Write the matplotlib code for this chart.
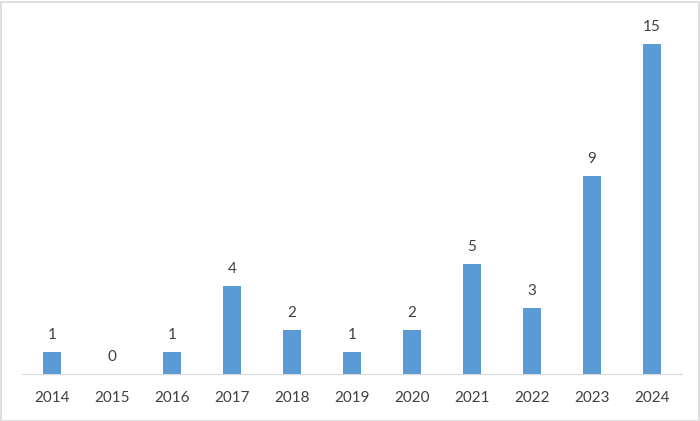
import matplotlib
matplotlib.use("Agg")
from matplotlib import pyplot as plt
from matplotlib.patches import Rectangle

years = ['2014', '2015', '2016', '2017', '2018', '2019', '2020', '2021', '2022', '2023', '2024']
counts = [1, 0, 1, 4, 2, 1, 2, 5, 3, 9, 15]

plt.rcParams['font.family'] = ['Lato', 'DejaVu Sans']

fig = plt.figure(figsize=(7, 4.21), dpi=100)
ax = fig.add_axes([22/700, 47/421, 660/700, 352/421])

x = range(len(years))
bars = ax.bar(x, counts, width=0.31, color='#5B9BD5')
for b, v in zip(bars, counts):
    ax.text(b.get_x() + b.get_width()/2, v + 0.45, str(v), ha='center', va='bottom',
            fontsize=11, color='#404040')

ax.set_xlim(-0.5, len(years) - 0.5)
ax.set_ylim(0, 16)
ax.set_xticks(list(x))
ax.set_xticklabels(years, fontsize=11, color='#404040')
ax.tick_params(axis='x', length=0, pad=12)
ax.set_yticks([])
for s in ['top', 'right', 'left']:
    ax.spines[s].set_visible(False)
ax.spines['bottom'].set_color('#D9D9D9')

# outer chart border
fig.patches.append(Rectangle((0.5/700, 0.5/421), 698/700, 419/421, transform=fig.transFigure,
                             fill=False, edgecolor='#D9D9D9', linewidth=1.2))

fig.savefig('out.png', dpi=100)
